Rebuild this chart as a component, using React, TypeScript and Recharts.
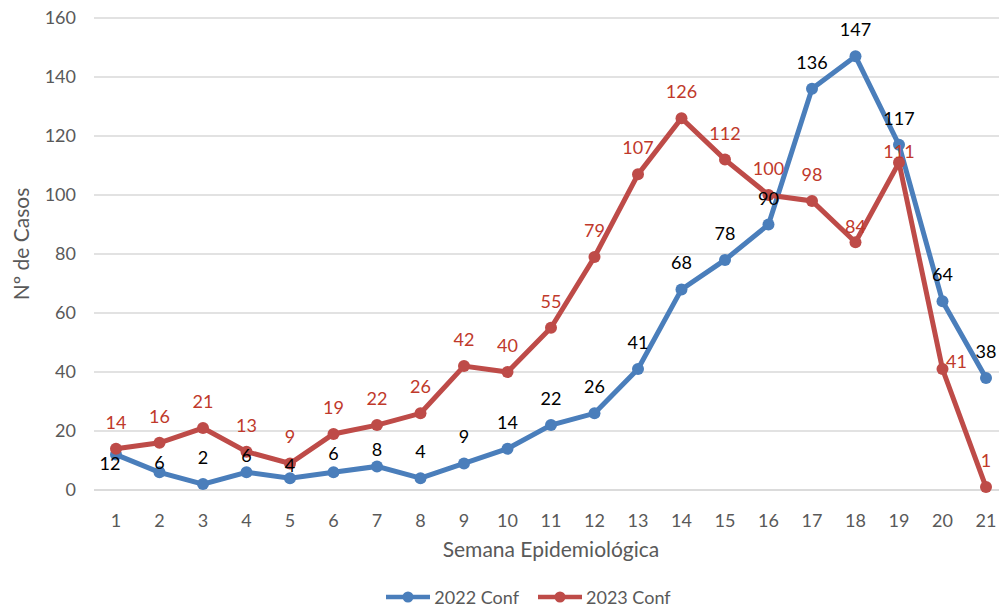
import React from "react";
import { LineChart, Line, XAxis, YAxis, CartesianGrid, Legend, LabelList } from "recharts";

const weeks = ["1", "2", "3", "4", "5", "6", "7", "8", "9", "10", "11", "12", "13", "14", "15", "16", "17", "18", "19", "20", "21"];
const conf2022 = [12, 6, 2, 6, 4, 6, 8, 4, 9, 14, 22, 26, 41, 68, 78, 90, 136, 147, 117, 64, 38];
const conf2023 = [14, 16, 21, 13, 9, 19, 22, 26, 42, 40, 55, 79, 107, 126, 112, 100, 98, 84, 111, 41, 1];
const yTicks = [0, 20, 40, 60, 80, 100, 120, 140, 160];

const BLUE = "#4A7EBB";
const RED = "#BE4B48";
const RED_TEXT = "#C0392B";
const GRAY = "#595959";
const FONT = "Lato, 'Open Sans', sans-serif";

// label nudges (dx, dy) where Excel moved labels off the default "above" spot
const blueShift: Record<number, [number, number]> = {
  0: [-6, 8], 1: [0, -10], 3: [0, -17], 4: [0, -13], 5: [0, -19], 6: [0, -17],
};
const redShift: Record<number, [number, number]> = {
  17: [0, -16], 18: [0, -12], 19: [14, -8],
};

const data = weeks.map((w, i) => ({ week: w, a: conf2022[i], b: conf2023[i] }));

const makeLabel = (color: string, shift: Record<number, [number, number]>) => (props: any) => {
  const { x, y, value, index } = props;
  const [dx, dy] = shift[index] ?? [0, -27];
  return (
    <text x={x + dx} y={y + dy} textAnchor="middle" dominantBaseline="central"
      fill={color} fontSize={18} fontFamily={FONT}>
      {value}
    </text>
  );
};

const LegendBox = () => {
  const item = (color: string, text: string) => (
    <div style={{ display: "flex", alignItems: "center" }}>
      <svg width={46} height={24}>
        <line x1={1} y1={12} x2={45} y2={12} stroke={color} strokeWidth={4.5} />
        <circle cx={23} cy={12} r={5.5} fill={color} />
      </svg>
      <span style={{ marginLeft: 3, fontSize: 18, color: GRAY, fontFamily: FONT }}>{text}</span>
    </div>
  );
  return (
    <div style={{ height: 24, display: "flex", justifyContent: "center", gap: 18, paddingLeft: 46 }}>
      {item(BLUE, "2022 Conf")}
      {item(RED, "2023 Conf")}
    </div>
  );
};

const YTitle = () => (
  <text transform="translate(20,244) rotate(-90)" textAnchor="middle" dominantBaseline="central"
    fill={GRAY} fontSize={21} fontFamily={FONT}>
    Nº de Casos
  </text>
);

export default function App() {
  return (
    <div style={{ position: "absolute", left: 0, top: 0, width: 999, height: 610, overflow: "hidden", background: "#fff" }}>
      <LineChart width={1010} height={610} data={data} margin={{ top: 18, right: 2, left: 0, bottom: 1 }}>
        <CartesianGrid vertical={false} stroke="#D9D9D9" strokeWidth={1.5} />
        <XAxis dataKey="week" padding={{ left: 22, right: 22 }} height={95}
          axisLine={{ stroke: "#D9D9D9", strokeWidth: 1.5 }} tickLine={false} tickMargin={18}
          tick={{ fill: GRAY, fontSize: 18, fontFamily: FONT }} interval={0}
          label={{ value: "Semana Epidemiológica", position: "insideBottom", offset: 28, fill: GRAY, fontSize: 21, fontFamily: FONT }} />
        <YAxis width={94} domain={[0, 160]} ticks={yTicks} axisLine={false} tickLine={false} tickMargin={12}
          tick={{ fill: GRAY, fontSize: 18, fontFamily: FONT }} label={<YTitle />} />
        <Legend verticalAlign="bottom" content={<LegendBox />} wrapperStyle={{ width: 1010, left: 0 }} />
        <Line dataKey="a" name="2022 Conf" stroke={BLUE} strokeWidth={5} isAnimationActive={false}
          dot={{ r: 6, fill: BLUE, stroke: "none" }} activeDot={false}>
          <LabelList dataKey="a" content={makeLabel("#000", blueShift)} />
        </Line>
        <Line dataKey="b" name="2023 Conf" stroke={RED} strokeWidth={5} isAnimationActive={false}
          dot={{ r: 6, fill: RED, stroke: "none" }} activeDot={false}>
          <LabelList dataKey="b" content={makeLabel(RED_TEXT, redShift)} />
        </Line>
      </LineChart>
    </div>
  );
}
